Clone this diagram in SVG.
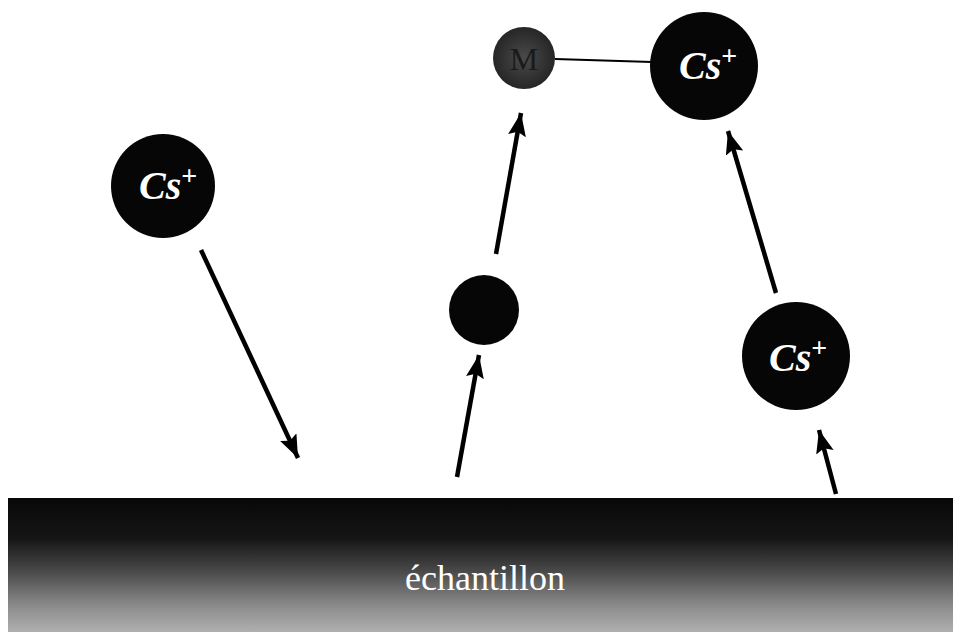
<svg xmlns="http://www.w3.org/2000/svg" width="953" height="636" viewBox="0 0 953 636">
<defs>
<marker id="ah" markerUnits="userSpaceOnUse" markerWidth="26" markerHeight="20" refX="23" refY="9" orient="auto">
<path d="M0,0 L23,9 L0,18 L4,9 Z" fill="#000"/>
</marker>
<linearGradient id="sg" x1="0" y1="0" x2="0" y2="1">
<stop offset="0" stop-color="#080808"/>
<stop offset="0.3" stop-color="#151515"/>
<stop offset="0.55" stop-color="#4a4a4a"/>
<stop offset="0.8" stop-color="#8a8a8a"/>
<stop offset="1" stop-color="#b0b0b0"/>
</linearGradient>
<radialGradient id="mg" cx="0.5" cy="0.5" r="0.5">
<stop offset="0" stop-color="#4a4a4a"/>
<stop offset="1" stop-color="#262626"/>
</radialGradient>
</defs>
<style>
.ion{fill:#060606}
.cs{font-family:"Liberation Serif",serif;font-weight:bold;font-style:italic;fill:#fff;font-size:40px}
.sup{font-size:28px;font-style:normal}
.arr{stroke:#000;stroke-width:4.5;fill:none;marker-end:url(#ah)}
</style>
<rect width="953" height="636" fill="#fff"/>
<g id="sample">
<rect x="8" y="498" width="945" height="134" fill="url(#sg)"/>
<text x="485" y="590" text-anchor="middle" font-family="Liberation Serif,serif" font-size="36" fill="#fff">échantillon</text>
</g>
<g id="connectors">
<line x1="555" y1="59" x2="652" y2="62" stroke="#000" stroke-width="2"/>
<line class="arr" x1="201" y1="250" x2="298" y2="458"/>
<line class="arr" x1="457" y1="477" x2="479" y2="355"/>
<line class="arr" x1="496" y1="254" x2="521" y2="113"/>
<line class="arr" x1="776" y1="293" x2="728" y2="131"/>
<line class="arr" x1="836" y1="494" x2="819" y2="430"/>
</g>
<g id="cs-left">
<circle class="ion" cx="163" cy="186" r="52"/>
<text class="cs" x="139" y="199">Cs<tspan class="sup" dy="-14">+</tspan></text>
</g>
<g id="m">
<circle cx="524" cy="58" r="31" fill="url(#mg)"/>
<text x="524" y="70" text-anchor="middle" font-family="Liberation Serif,serif" font-size="32" fill="#1a1a1a">M</text>
</g>
<g id="cs-top">
<circle class="ion" cx="704" cy="66" r="54"/>
<text class="cs" x="679" y="79">Cs<tspan class="sup" dy="-14">+</tspan></text>
</g>
<g id="particle">
<circle class="ion" cx="484" cy="310" r="35"/>
</g>
<g id="cs-right">
<circle class="ion" cx="796" cy="356" r="54"/>
<text class="cs" x="769" y="371">Cs<tspan class="sup" dy="-14">+</tspan></text>
</g>
</svg>
